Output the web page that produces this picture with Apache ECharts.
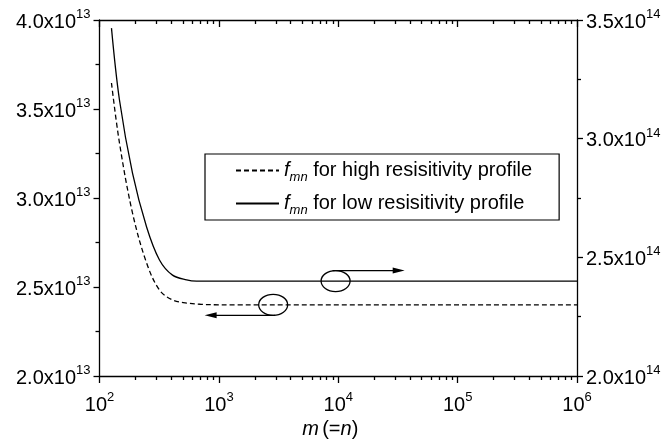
<!DOCTYPE html>
<html>
<head>
<meta charset="utf-8">
<script src="https://cdn.jsdelivr.net/npm/echarts@6/dist/echarts.min.js"></script>
<style>
  html, body { margin: 0; padding: 0; background: #fff; }
  #chart { width: 669px; height: 443px; }
</style>
</head>
<body>
<div id="chart"></div>
<script>
// f_mn, high resistivity profile (left axis)
var mHigh = [126, 147, 189, 248, 318, 409, 537, 700, 1000, 1000000];
var fHigh = [3.646e13, 3.309e13, 2.916e13, 2.635e13, 2.483e13, 2.427e13, 2.410e13, 2.403e13, 2.400e13, 2.400e13];
// f_mn, low resistivity profile (right axis)
var mLow = [126, 147, 189, 248, 318, 409, 537, 650, 1000, 1000000];
var fLow = [3.466e14, 3.163e14, 2.855e14, 2.628e14, 2.489e14, 2.425e14, 2.405e14, 2.400e14, 2.400e14, 2.400e14];

var seriesNames = ['high', 'low'];

// annotation marks: ellipse centre m, arrow tip m
var noteHigh = { m: 2850, tip: 760 };
var noteLow = { m: 9500, tip: 36000 };

var FONT = 'Liberation Sans';

function sciLabel(v, exp) {
  return '{b|' + (v / Math.pow(10, exp)).toFixed(1) + 'x10}{s|' + exp + '}';
}
var supRich = {
  b: { fontFamily: FONT, fontSize: 20, color: '#000', lineHeight: 24, verticalAlign: 'bottom' },
  s: { fontFamily: FONT, fontSize: 13, color: '#000', lineHeight: 14, verticalAlign: 'top' }
};

function axisLine() { return { show: true, lineStyle: { color: '#000', width: 1.3 } }; }
function tickLine() { return { color: '#000', width: 1.3 }; }

function logAxis(pos, show) {
  return {
    type: 'log', logBase: 10, min: 100, max: 1e6, position: pos,
    axisLine: axisLine(),
    axisTick: { show: true, inside: pos === 'top', length: 7, lineStyle: tickLine() },
    minorTick: { show: true, splitNumber: 9, length: 4, lineStyle: tickLine() },
    axisLabel: { show: show, margin: 15,
      formatter: function (v) { return '{b|10}{s|' + Math.round(Math.log10(v)) + '}'; },
      rich: supRich },
    splitLine: { show: false }
  };
}

function valAxis(pos, min, max, step, exp) {
  return {
    type: 'value', position: pos, min: min, max: max, interval: step,
    axisLine: axisLine(),
    axisTick: { show: true, length: 6, lineStyle: tickLine() },
    minorTick: { show: true, splitNumber: 2, length: 4, lineStyle: tickLine() },
    axisLabel: { margin: 9, formatter: function (v) { return sciLabel(v, exp); }, rich: supRich },
    splitLine: { show: false }
  };
}

var chart = echarts.init(document.getElementById('chart'));
var xMain = logAxis('bottom', true);
xMain.name = '{i|m} {b|(=}{i|n}{b|)}';
xMain.nameLocation = 'middle';
xMain.nameGap = 42;
xMain.nameTextStyle = {
  padding: [0, 16, 0, 0],
  rich: {
    i: { fontFamily: FONT, fontSize: 20, fontStyle: 'italic', color: '#000' },
    b: { fontFamily: FONT, fontSize: 20, color: '#000' }
  }
};

chart.setOption({
  animation: false,
  backgroundColor: '#fff',
  grid: { left: 99.5, right: 92, top: 20, bottom: 67, containLabel: false, outerBoundsMode: 'none' },
  legend: {
    orient: 'vertical',
    left: 205, top: 154,
    data: seriesNames,
    itemWidth: 43, itemHeight: 14, itemGap: 6,
    padding: [3, 27, 3, 30],
    borderColor: '#000', borderWidth: 1.2,
    itemStyle: { color: 'rgba(0,0,0,0)', borderWidth: 0, opacity: 0 },
    formatter: function (name) {
      return '{i|f}{sub|mn}{t| for ' + name + ' resisitivity profile}';
    },
    textStyle: {
      rich: {
        i: { fontFamily: FONT, fontSize: 20, fontStyle: 'italic', color: '#000', lineHeight: 27 },
        sub: { fontFamily: FONT, fontSize: 13, fontStyle: 'italic', color: '#000', lineHeight: 13, padding: [14, 0, 0, 0] },
        t: { fontFamily: FONT, fontSize: 20, color: '#000', lineHeight: 27 }
      }
    }
  },
  xAxis: [
    xMain,
    logAxis('top', false)
  ],
  yAxis: [
    valAxis('left', 2.0e13, 4.0e13, 0.5e13, 13),
    valAxis('right', 2.0e14, 3.5e14, 0.5e14, 14)
  ],
  series: [
    {
      name: 'high', type: 'line', xAxisIndex: 0, yAxisIndex: 0,
      data: mHigh.map(function (m, i) { return [m, fHigh[i]]; }),
      smooth: 0.35, symbol: 'none', showSymbol: false,
      lineStyle: { color: '#000', width: 1.3, type: [5, 3] },
      itemStyle: { color: '#000' }
    },
    {
      name: 'low', type: 'line', xAxisIndex: 0, yAxisIndex: 1,
      data: mLow.map(function (m, i) { return [m, fLow[i]]; }),
      smooth: 0.35, symbol: 'none', showSymbol: false,
      lineStyle: { color: '#000', width: 1.3, type: 'solid' },
      itemStyle: { color: '#000' }
    }
  ]
});

// ellipse + arrow annotations, placed from data coordinates
function note(n, yIdx, yVal, dir) {
  var c = chart.convertToPixel({ xAxisIndex: 0, yAxisIndex: yIdx }, [n.m, yVal]);
  var tip = chart.convertToPixel({ xAxisIndex: 0, yAxisIndex: yIdx }, [n.tip, yVal]);
  var rx = 14.5, ry = 10.5;
  var ay = c[1] + (dir > 0 ? -ry : ry);
  var ax = c[0] + (dir > 0 ? -3 : 2);
  var st = { stroke: '#000', lineWidth: 1.3, fill: null };
  return [
    { type: 'ellipse', shape: { cx: c[0], cy: c[1], rx: rx, ry: ry }, style: st },
    { type: 'line', shape: { x1: ax, y1: ay, x2: tip[0] - dir * 10, y2: ay }, style: st },
    { type: 'polygon', shape: { points: [[tip[0], ay], [tip[0] - dir * 12, ay - 3], [tip[0] - dir * 12, ay + 3]] },
      style: { fill: '#000', stroke: null } }
  ];
}
chart.setOption({
  graphic: note(noteHigh, 0, fHigh[fHigh.length - 1], -1).concat(note(noteLow, 1, fLow[fLow.length - 1], 1))
});
</script>
</body>
</html>
